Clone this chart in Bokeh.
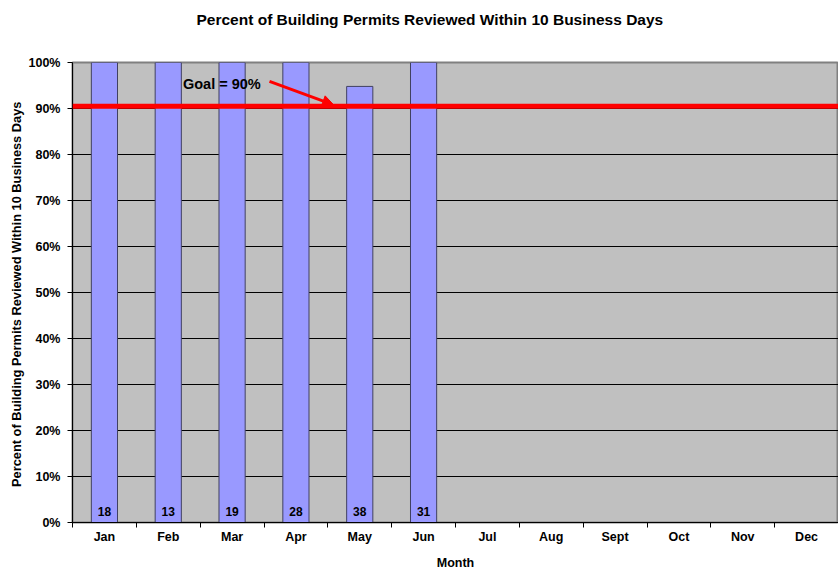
from bokeh.plotting import figure
from bokeh.models import (ColumnDataSource, FixedTicker, NumeralTickFormatter, Span,
                          Label, Arrow, NormalHead, Range1d, Title)
from bokeh.embed import file_html
from bokeh.resources import INLINE

months = ["Jan", "Feb", "Mar", "Apr", "May", "Jun", "Jul", "Aug", "Sept", "Oct", "Nov", "Dec"]
bar_months = ["Jan", "Feb", "Mar", "Apr", "May", "Jun"]
pct_values = [1.00, 1.00, 1.00, 1.00, 0.948, 1.00]
permit_counts = [18, 13, 19, 28, 38, 31]
goal = 0.905
y_ticks = [0.0, 0.1, 0.2, 0.3, 0.4, 0.5, 0.6, 0.7, 0.8, 0.9, 1.0]
title_text = "Percent of Building Permits Reviewed Within 10 Business Days"

xpos = [months.index(m) + 0.5 for m in bar_months]
src = ColumnDataSource(dict(x=xpos, top=pct_values, cnt=[str(c) for c in permit_counts],
                            base=[0.0] * len(xpos)))

FONT = "Liberation Sans"
TICK = "12.5px"

p = figure(frame_width=766, frame_height=460, output_backend="svg", toolbar_location=None,
           x_range=Range1d(0, 12), y_range=Range1d(0, 1.0),
           min_border_left=72, min_border_right=0, min_border_top=62, min_border_bottom=44)
p.title = None
# spacer between frame and title
p.add_layout(Title(text=" ", text_font=FONT, text_font_size="13px", standoff=12), "above")
p.add_layout(Title(text=title_text, align="left", offset=124,
                   text_font=FONT, text_font_size="15.5px", text_font_style="bold",
                   text_color="black", standoff=12), "above")

p.background_fill_color = "#C0C0C0"
p.border_fill_color = "white"
p.outline_line_color = "#808080"
p.outline_line_width = 2

# grid
p.xgrid.grid_line_color = None
p.ygrid.ticker = FixedTicker(ticks=y_ticks)
p.ygrid.grid_line_color = "black"
p.ygrid.grid_line_width = 1

# bars
p.vbar(x="x", top="top", bottom=0, width=0.41, source=src, fill_color="#9999FF",
       line_color="#404060", line_width=1)

# count labels inside bars
p.text(x="x", y="base", text="cnt", source=src, text_align="center", text_baseline="bottom",
       y_offset=-7, text_font_size="12px", text_font_style="bold", text_color="black",
       text_font={"value": FONT})

# goal line
p.add_layout(Span(location=goal, dimension="width", line_color="#FF0000", line_width=5))
p.add_layout(Label(x=1.73, y=0.954, text="Goal = 90%", text_font=FONT, text_font_size="14.5px",
                   text_font_style="bold", text_baseline="middle", text_color="black"))
p.add_layout(Arrow(end=NormalHead(size=11, fill_color="#FF0000", line_color="#FF0000"),
                   x_start=3.086, y_start=0.959, x_end=4.09, y_end=0.908,
                   line_color="#FF0000", line_width=3))

# x axis
xa = p.xaxis[0]
xa.ticker = FixedTicker(ticks=[i + 0.5 for i in range(len(months))],
                        minor_ticks=list(range(len(months) + 1)))
xa.major_label_overrides = {i + 0.5: m for i, m in enumerate(months)}
xa.major_tick_line_color = None
xa.minor_tick_line_color = "black"
xa.minor_tick_out = 5
xa.minor_tick_in = 0
xa.axis_line_color = "black"
xa.axis_line_width = 1
xa.major_label_text_font = FONT
xa.major_label_text_font_size = TICK
xa.major_label_text_font_style = "bold"
xa.major_label_text_color = "black"
xa.major_label_standoff = 1
xa.axis_label = "Month"
xa.axis_label_text_font = FONT
xa.axis_label_text_font_size = TICK
xa.axis_label_text_font_style = "bold"
xa.axis_label_text_color = "black"
xa.axis_label_standoff = 9

# y axis
ya = p.yaxis[0]
ya.ticker = FixedTicker(ticks=y_ticks)
ya.formatter = NumeralTickFormatter(format="0%")
ya.major_tick_out = 5
ya.major_tick_in = 0
ya.minor_tick_line_color = None
ya.axis_line_color = "black"
ya.major_label_text_font = FONT
ya.major_label_text_font_size = TICK
ya.major_label_text_font_style = "bold"
ya.major_label_text_color = "black"
ya.major_label_standoff = 7
ya.axis_label = "Percent of Building Permits Reviewed Within 10 Business  Days"
ya.axis_label_text_font = FONT
ya.axis_label_text_font_size = "12.8px"
ya.axis_label_text_font_style = "bold"
ya.axis_label_text_color = "black"
ya.axis_label_standoff = 2

open("out.html", "w").write(file_html(p, INLINE))
